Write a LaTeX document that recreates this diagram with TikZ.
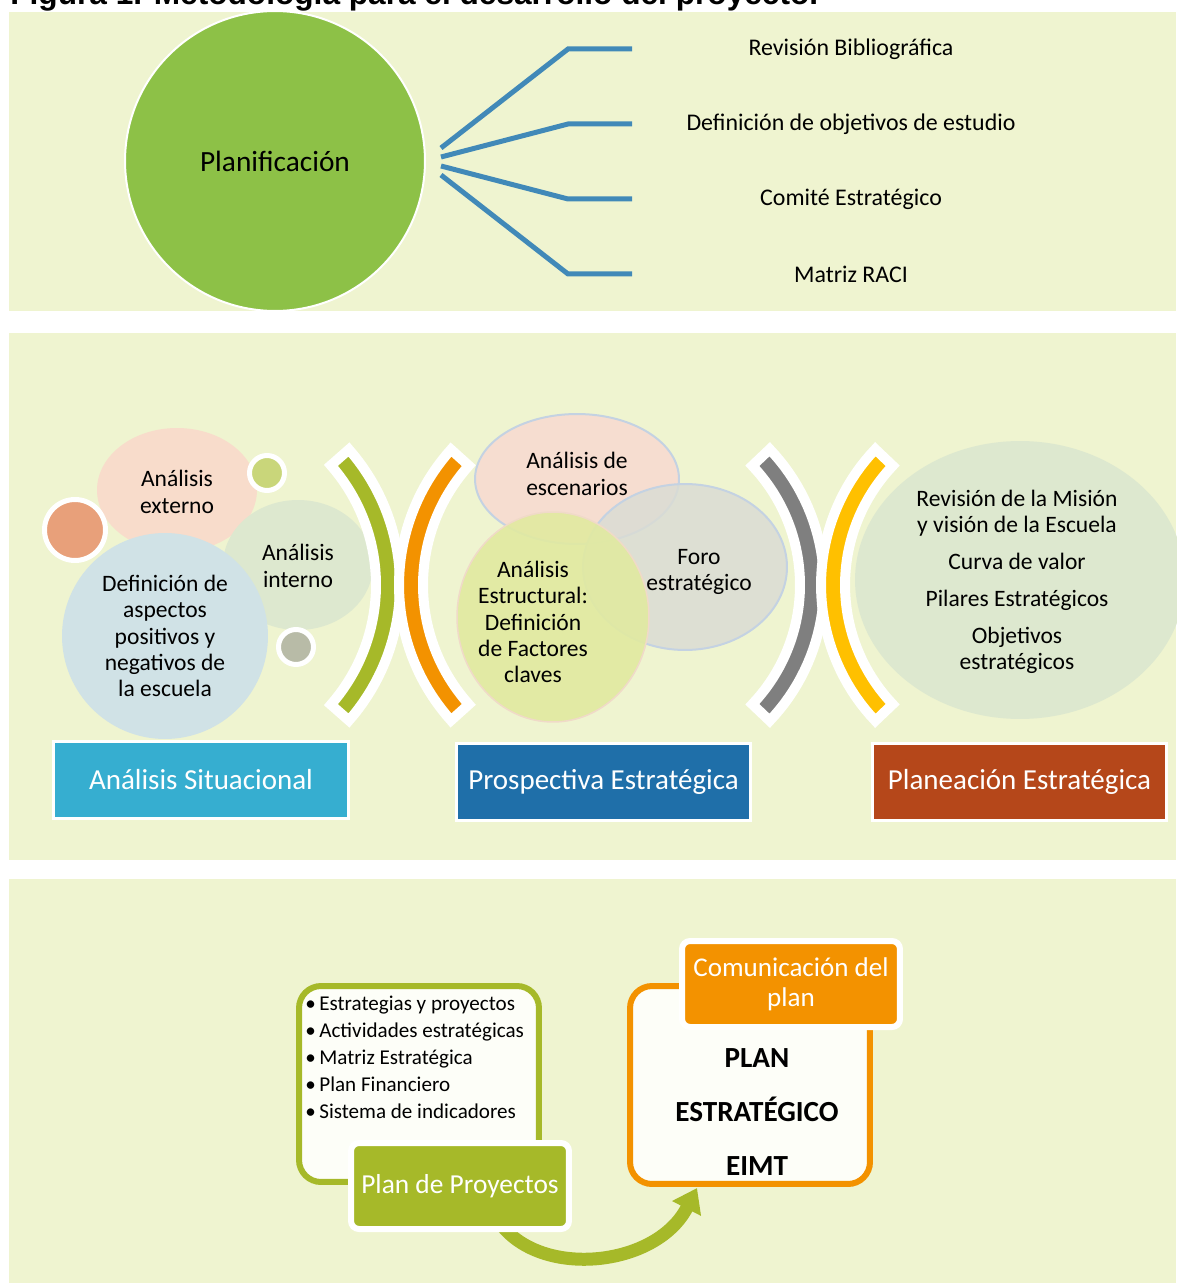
\documentclass[tikz,border=0pt]{standalone}
\usepackage{fontspec}
\setmainfont{Carlito}
\newfontfamily\titlefont{Liberation Sans}
\usetikzlibrary{arrows.meta,shapes.geometric}

\definecolor{panelbg}{RGB}{239,244,208}
\definecolor{planfill}{RGB}{141,193,71}
\definecolor{linkblue}{RGB}{65,137,184}
\definecolor{olive}{RGB}{166,185,41}
\definecolor{orangeA}{RGB}{243,146,0}
\definecolor{greyA}{RGB}{127,127,127}
\definecolor{goldA}{RGB}{255,192,0}
\definecolor{pinkA}{RGB}{248,220,203}
\definecolor{mintA}{RGB}{221,232,207}
\definecolor{skyA}{RGB}{208,226,230}
\definecolor{dotlime}{RGB}{201,214,122}
\definecolor{dotorange}{RGB}{232,160,122}
\definecolor{dotgrey}{RGB}{184,187,167}
\definecolor{scenpink}{RGB}{246,221,208}
\definecolor{forogrey}{RGB}{218,220,212}
\definecolor{estrlime}{RGB}{225,234,160}
\definecolor{ringblue}{RGB}{196,210,226}
\definecolor{ringpink}{RGB}{240,218,200}
\definecolor{cyanbox}{RGB}{54,174,208}
\definecolor{bluebox}{RGB}{31,111,169}
\definecolor{rustbox}{RGB}{181,71,26}
\definecolor{paper}{RGB}{253,254,248}

% curved band with a white rim: centre, radius, start angle, end angle, colour
\newcommand\bracketband[6]{%
  \filldraw[fill=#6, draw=white, line width=0.2cm]
    plot[domain=#4:#5, samples=40] ({#1+(#3+12)*cos(\x)},{#2+(#3+12)*sin(\x)})
    -- plot[domain=#5:#4, samples=40] ({#1+(#3-12)*cos(\x)},{#2+(#3-12)*sin(\x)})
    -- cycle;}

\tikzset{
  bubble/.style={shape=ellipse, inner sep=0pt},
  dot/.style={circle, inner sep=0pt, draw=white, line width=0.1cm},
  btxt/.style={align=center, inner sep=0pt, font=\fontsize{13.4pt}{15pt}\selectfont},
  stagebox/.style={rectangle, draw=white, line width=0.06cm, minimum width=5.9cm,
    minimum height=1.54cm, text=white, font=\fontsize{16.5pt}{19pt}\selectfont},
  linklabel/.style={inner sep=0pt, font=\fontsize{13.6pt}{16pt}\selectfont},
  link/.style={draw=linkblue, line width=0.1cm},
  card/.style={rectangle, rounded corners=0.44cm, fill=paper, line width=0.12cm,
    minimum width=4.8cm},
  tab/.style={rectangle, rounded corners=0.16cm, draw=white, line width=0.12cm,
    minimum width=4.36cm, minimum height=1.72cm, text=white, align=center,
    font=\fontsize{15.6pt}{17pt}\selectfont},
}

\begin{document}
\begin{tikzpicture}[x=0.02cm, y=-0.02cm]
\useasboundingbox (0,0) rectangle (1176,1283);
\fill[white] (0,0) rectangle (1176,1283);

% three panels
\fill[panelbg] (9,12) rectangle (1176,311);
\fill[panelbg] (9,333) rectangle (1176,860);
\fill[panelbg] (9,879) rectangle (1176,1283);

% caption
\node[anchor=base west, inner sep=0pt, font=\titlefont\bfseries\fontsize{18pt}{20pt}\selectfont]
  (title) at (10,5) {Figura 1. Metodología para el desarrollo del proyecto.};

% ---------- Planificación ----------
\node[circle, fill=planfill, draw=white, line width=0.04cm, minimum width=6cm,
  inner sep=0pt, font=\fontsize{16.7pt}{19pt}\selectfont] (plan) at (275,161) {Planificación};

\coordinate (s1) at (441,148); \coordinate (k1) at (568,49);  \coordinate (e1) at (632,49);
\coordinate (s2) at (441,157); \coordinate (k2) at (568,124); \coordinate (e2) at (632,124);
\coordinate (s3) at (441,166); \coordinate (k3) at (568,199); \coordinate (e3) at (632,199);
\coordinate (s4) at (441,175); \coordinate (k4) at (568,274); \coordinate (e4) at (632,274);
\draw[link] (s1) -- (k1) -- (e1);
\draw[link] (s2) -- (k2) -- (e2);
\draw[link] (s3) -- (k3) -- (e3);
\draw[link] (s4) -- (k4) -- (e4);

\node[linklabel] (l1) at (851,49)  {Revisión Bibliográfica};
\node[linklabel] (l2) at (851,124) {Definición de objetivos de estudio};
\node[linklabel] (l3) at (851,199) {Comité Estratégico};
\node[linklabel] (l4) at (851,274) {Matriz RACI};

% ---------- Análisis situacional ----------
\node[bubble, fill=pinkA, minimum width=3.2cm, minimum height=2.48cm] (ext) at (177,490) {};
\node[bubble, fill=mintA, minimum width=3.0cm, minimum height=2.6cm] (int) at (298,565) {};
\node[circle, inner sep=0pt, fill=skyA, minimum width=4.12cm] (asp) at (165,636) {};
\node[dot, fill=dotlime, minimum size=0.7cm] (d1) at (267,473) {};
\node[dot, fill=dotorange, minimum size=1.22cm] (d2) at (75,530) {};
\node[dot, fill=dotgrey, minimum size=0.7cm] (d3) at (296,647) {};

\node[btxt] (extT) at (177,492) {Análisis\\externo};
\node[btxt] (intT) at (298,566) {Análisis\\interno};
\node[btxt] (aspT) at (165,636) {Definición de\\aspectos\\positivos y\\negativos de\\la escuela};

% brackets
\bracketband{194.7}{585}{193.3}{-41.3}{41.3}{olive}
\bracketband{601.4}{585}{190.4}{138}{222}{orangeA}
\bracketband{627.1}{585}{184.9}{-43.6}{43.6}{greyA}
\bracketband{1017.9}{585}{184.9}{136.4}{223.6}{goldA}

% ---------- Prospectiva ----------
\node[bubble, fill=scenpink, draw=ringblue, line width=0.04cm,
  minimum width=4.08cm, minimum height=2.6cm] (esc) at (577,479) {};
\node[bubble, fill=forogrey, fill opacity=0.85, draw=ringblue, line width=0.04cm,
  minimum width=4.08cm, minimum height=3.32cm] (foro) at (685,567) {};
\node[bubble, fill=estrlime, fill opacity=0.9, draw=ringpink, line width=0.03cm,
  minimum width=3.84cm, minimum height=4.2cm] (estr) at (553,617) {};

\node[btxt] (escT) at (577,474) {Análisis de\\escenarios};
\node[btxt] (foroT) at (699,572) {Foro\\estratégico};
\node[btxt] (estrT) at (533,622) {Análisis\\Estructural:\\Definición\\de Factores\\claves};

% ---------- Planeación ----------
\node[bubble, fill=mintA, minimum width=6.6cm, minimum height=5.56cm] (pla) at (1020,580) {};
\node[btxt] (plaT) at (1017,582) {Revisión de la Misión\\y visión de la Escuela\\[6pt]Curva de valor\\[6pt]Pilares Estratégicos\\[6pt]Objetivos\\estratégicos};

% stage labels
\node[stagebox, fill=cyanbox] (sit) at (201,779.5) {Análisis Situacional};
\node[stagebox, fill=bluebox] (pros) at (603.5,781.5) {Prospectiva Estratégica};
\node[stagebox, fill=rustbox] (plane) at (1019.5,781.5) {Planeación Estratégica};

% ---------- Plan de proyectos / Plan estratégico ----------
\node[card, draw=olive, minimum height=3.92cm] (list) at (419,1084) {};
\node[align=left, anchor=west, inner sep=0pt, font=\fontsize{12pt}{15.4pt}\selectfont]
  (listT) at (305,1057) {\textbullet\,Estrategias y proyectos\\\textbullet\,Actividades estratégicas\\\textbullet\,Matriz Estratégica\\\textbullet\,Plan Financiero\\\textbullet\,Sistema de indicadores};

\node[card, draw=orangeA, minimum height=3.96cm] (eimt) at (750,1085) {};

\coordinate (arrS) at (495,1215);
\coordinate (arrE) at (697,1188);
\draw[olive, line width=0.26cm, -{Triangle[width=0.62cm, length=0.46cm]}]
  (arrS) .. controls (530,1280) and (655,1270) .. (arrE);

\node[tab, fill=olive] (proy) at (460,1186) {Plan de Proyectos};
\node[tab, fill=orangeA, font=\fontsize{15.4pt}{17pt}\selectfont] (com) at (791,984) {Comunicación del\\plan};

\node[align=center, inner sep=0pt, font=\bfseries\fontsize{16.6pt}{30.7pt}\selectfont]
  (eimtT) at (757,1112) {PLAN\\ESTRATÉGICO\\EIMT};
\end{tikzpicture}
\end{document}
